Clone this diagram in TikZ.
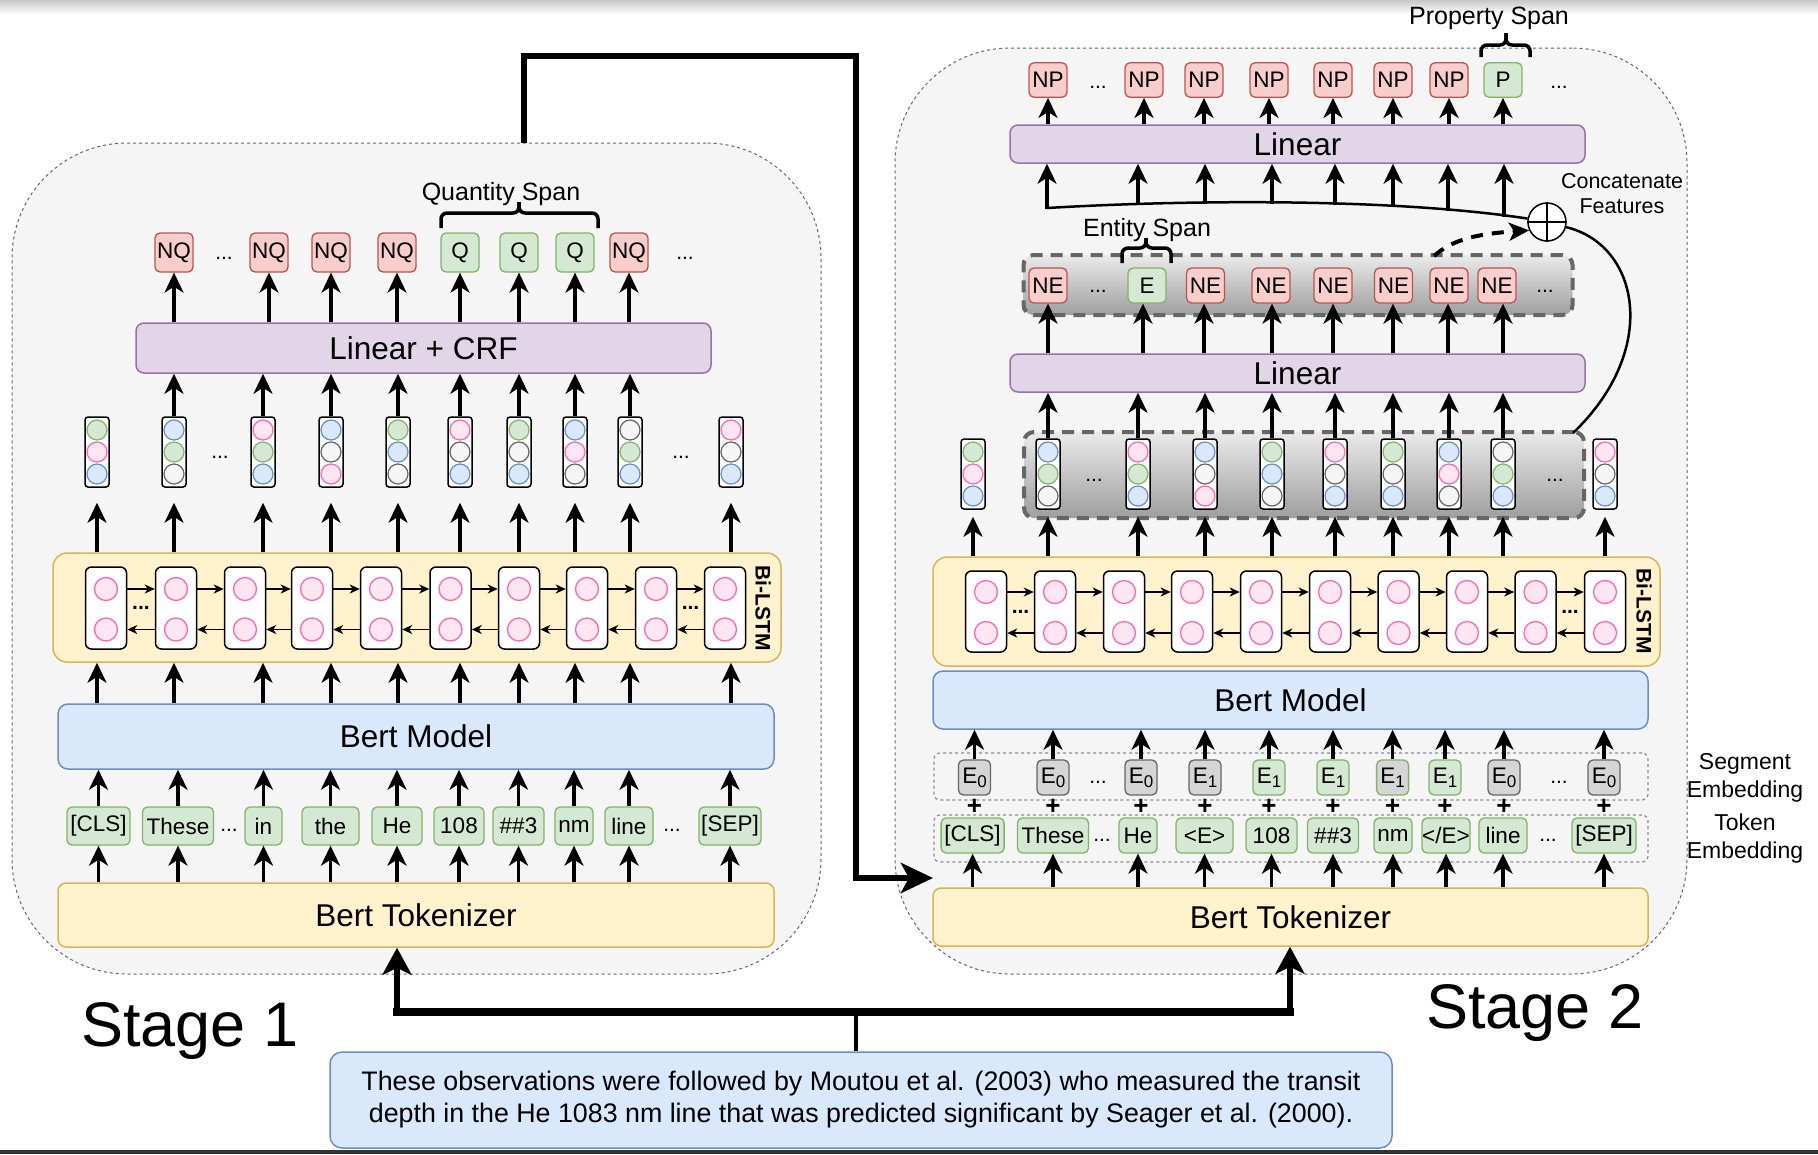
\documentclass[tikz,border=0pt]{standalone}
\usepackage{fontspec}
\setmainfont{Liberation Sans}
\usetikzlibrary{arrows.meta,calc}
\definecolor{contfill}{HTML}{F5F5F5}
\definecolor{contline}{HTML}{666666}
\definecolor{linfill}{HTML}{E1D5E7}
\definecolor{linline}{HTML}{9673A6}
\definecolor{bfill}{HTML}{DAE8FC}
\definecolor{bline}{HTML}{6C8EBF}
\definecolor{yfill}{HTML}{FFF2CC}
\definecolor{yline}{HTML}{D6B656}
\definecolor{gfill}{HTML}{D5E8D4}
\definecolor{gline}{HTML}{82B366}
\definecolor{rfill}{HTML}{F8CECC}
\definecolor{rline}{HTML}{B85450}
\definecolor{pfill}{HTML}{FFE6F0}
\definecolor{pline}{HTML}{FF66B3}
\definecolor{wfill}{HTML}{F5F5F5}
\definecolor{wline}{HTML}{666666}
\definecolor{efill}{HTML}{D5D5D5}
\definecolor{eline}{HTML}{666666}
\definecolor{mfill}{HTML}{D5D5D5}
\definecolor{mline}{HTML}{82B366}
\newcommand{\myfs}[1]{\fontsize{#1}{#1}\selectfont}
\newcommand{\esub}[1]{E\raisebox{-4pt}{\fontsize{17}{17}\selectfont #1}}
\tikzset{
  cont/.style={draw=contline, fill=contfill, line width=1pt, dash pattern=on 3pt off 3pt, rounded corners=115pt, inner sep=0pt},
  bx/.style={draw, line width=1.5pt, rounded corners=8pt, inner sep=0pt, font=\myfs{31.5}},
  linbox/.style={bx, fill=linfill, draw=linline},
  bertbox/.style={bx, fill=bfill, draw=bline},
  yelbox/.style={bx, fill=yfill, draw=yline},
  lab/.style={draw, line width=1.3pt, rounded corners=5pt, inner sep=0pt, minimum width=38pt, minimum height=35pt, font=\myfs{22.5}},
  dotsn/.style={inner sep=0pt, font=\myfs{21}},
  cellbox/.style={draw=black, fill=white, line width=1.5pt, rounded corners=6pt, minimum width=41pt, minimum height=82pt, inner sep=0pt},
  vecbox/.style={draw=black, fill=white, line width=1.5pt, rounded corners=3pt, minimum width=24pt, minimum height=70pt, inner sep=0pt},
  crc/.style={circle, line width=1.2pt, minimum size=20pt, inner sep=0pt},
  lc/.style={circle, line width=1.3pt, minimum size=23pt, inner sep=0pt, fill=pfill, draw=pline},
  arr/.style={line width=3.2pt, -{Stealth[length=20pt,width=19pt,inset=6pt]}},
  sarr/.style={line width=1.8pt, -{Stealth[length=10pt,width=9pt,inset=3pt]}},
  bigarr/.style={line width=6pt, line join=miter, -{Stealth[length=32pt,width=30pt,inset=8pt]}},
  bigarrb/.style={line width=6pt, -{Stealth[length=27pt,width=29pt,inset=7pt]}},
  grp/.style={draw=black!45, line width=1.2pt, dash pattern=on 3pt off 3pt, rounded corners=6pt, inner sep=0pt},
  shbox/.style={draw=contline, line width=4pt, dash pattern=on 12pt off 8pt, rounded corners=10pt, top color=black!8, bottom color=black!38, inner sep=0pt},
  brc/.style={line width=3.5pt, rounded corners=6pt},
  plusn/.style={inner sep=0pt, font=\bfseries\myfs{26}},
  lstmlbl/.style={rotate=-90, inner sep=0pt, font=\bfseries\myfs{21}},
  spanlbl/.style={inner sep=0pt, font=\myfs{25}},
}
\begin{document}
\begin{tikzpicture}[x=1pt,y=-1pt]
\useasboundingbox (0,0) rectangle (1818,1154);
\fill[white] (0,0) rectangle (1818,1154);
\shade[top color=black!22, bottom color=white] (0,0) rectangle (1818,14);
\fill[black!80] (0,1150) rectangle (1818,1154);

\node[cont, minimum width=809pt, minimum height=831pt] (st1) at (416.5,558.5) {};
\node[cont, minimum width=792pt, minimum height=926pt] (st2) at (1291,511) {};

%%%%%%%% Stage 1
\node[yelbox, minimum width=716pt, minimum height=64pt] (s1tokz) at (416,915) {Bert Tokenizer};
\node[bertbox, minimum width=716pt, minimum height=65pt, rounded corners=10pt] (s1bert) at (416,736.5) {Bert Model};
\node[yelbox, minimum width=728pt, minimum height=109pt, rounded corners=14pt] (s1lstm) at (417,607.5) {};
\node[lstmlbl] (s1lbl) at (763,608) {Bi-LSTM};
\node[linbox, minimum width=575pt, minimum height=50pt] (s1lin) at (423.5,348) {Linear + CRF};

\foreach \x/\w/\tx [count=\i] in {98.5/63/{[CLS]},178/71/These,263.5/37/in,330.5/57/the,397/50/He,459/50/108,518.5/51/{\#\#3},574/38/nm,629/48/line,730/62/{[SEP]}}{
  \node[lab, fill=gfill, draw=gline, minimum width=\w pt, minimum height=38pt] (s1t\i) at (\x,826) {\tx};
  \draw[arr] (s1t\i.south |- s1tokz.north) -- (s1t\i.south);
  \draw[arr] (s1t\i.north) -- (s1t\i.north |- s1bert.south);
}
\node[dotsn] (s1tdA) at (229,830) {...};
\node[dotsn] (s1tdB) at (672,830) {...};

\foreach \x [count=\i] in {106,176,245,312,381,450.5,519,587,656,725}{
  \node[cellbox] (s1cell\i) at (\x,608) {};
  \node[lc] (s1cu\i) at (\x,589) {};
  \node[lc] (s1cd\i) at (\x,629.5) {};
}
\foreach \i in {1,...,9}{
  \pgfmathtruncatemacro{\j}{\i+1}
  \draw[sarr] (s1cell\i.east |- s1cu\i) -- (s1cell\j.west |- s1cu\i);
  \draw[sarr] (s1cell\j.west |- s1cd\i) -- (s1cell\i.east |- s1cd\i);
}
\node[dotsn, font=\bfseries\myfs{21}] (s1ldA) at (141,608) {...};
\node[dotsn, font=\bfseries\myfs{21}] (s1ldB) at (690.5,608) {...};

\foreach \x/\ca/\cb/\cc [count=\i] in {97/g/p/b,174/b/g/w,263/p/g/b,331/b/w/p,398/g/b/w,460/p/w/b,519/g/w/b,575/b/p/w,630/w/g/b,731/p/w/b}{
  \coordinate (s1col\i) at (\x,0);
  \draw[arr] (s1col\i |- s1bert.north) -- (s1col\i |- s1lstm.south);
  \node[vecbox] (s1v\i) at (\x,452) {};
  \node[crc, fill=\ca fill, draw=\ca line] (s1va\i) at (\x,430) {};
  \node[crc, fill=\cb fill, draw=\cb line] (s1vb\i) at (\x,452) {};
  \node[crc, fill=\cc fill, draw=\cc line] (s1vc\i) at (\x,474) {};
  \draw[arr] (s1col\i |- s1lstm.north) -- ($(s1v\i.south)+(0,15)$);
}
\foreach \i in {2,...,9}{
  \draw[arr] (s1v\i.north) -- (s1v\i.north |- s1lin.south);
}
\node[dotsn] (s1vdA) at (220,457) {...};
\node[dotsn] (s1vdB) at (681,457) {...};

\foreach \x/\tx/\sc [count=\i] in {174/NQ/r,269/NQ/r,331/NQ/r,397/NQ/r,460/Q/g,519/Q/g,575/Q/g,629/NQ/r}{
  \node[lab, minimum height=39pt, fill=\sc fill, draw=\sc line] (s1o\i) at (\x,252.5) {\tx};
  \draw[arr] (s1o\i.south |- s1lin.north) -- (s1o\i.south);
}
\node[dotsn] (s1odA) at (224,258) {...};
\node[dotsn] (s1odB) at (685,258) {...};

\node[spanlbl] (s1qs) at (501,194) {Quantity Span};
\draw[brc] (441,228) -- (441,213) -- (519,213) -- (519,202);
\draw[brc] (598,228) -- (598,213) -- (519,213) -- (519,202);

%%%%%%%% Stage 2
\node[yelbox, minimum width=715pt, minimum height=58pt] (s2tokz) at (1290.5,917) {Bert Tokenizer};
\node[bertbox, minimum width=715pt, minimum height=58pt, rounded corners=10pt] (s2bert) at (1290.5,700) {Bert Model};
\node[yelbox, minimum width=727pt, minimum height=109pt, rounded corners=14pt] (s2lstm) at (1296.5,611.5) {};
\node[lstmlbl] (s2lbl) at (1644,611) {Bi-LSTM};
\node[grp, minimum width=714pt, minimum height=47pt] (s2seg) at (1291,776.5) {};
\node[grp, minimum width=714pt, minimum height=47pt] (s2tg) at (1291,838.5) {};

\foreach \x/\w/\tx [count=\i] in {972.6/63/{[CLS]},1053/71/These,1138/38/He,1204.5/57/{<E>},1271.5/51/108,1333/51/{\#\#3},1393/38/nm,1446/48/{</E>},1503/48/line,1604/64/{[SEP]}}{
  \node[lab, fill=gfill, draw=gline, minimum width=\w pt] (s2t\i) at (\x,835.5) {\tx};
  \draw[arr] (s2t\i.south |- s2tokz.north) -- (s2t\i.south);
}
\node[dotsn] (s2tdA) at (1102,840) {...};
\node[dotsn] (s2tdB) at (1548,840) {...};

\foreach \x/\nn/\sc [count=\i] in {974.5/0/e,1053/0/e,1141/0/e,1205/1/e,1269/1/g,1333/1/g,1392.6/1/m,1445/1/g,1504/0/e,1604/0/e}{
  \node[lab, fill=\sc fill, draw=\sc line, minimum width=32pt] (s2e\i) at (\x,777.5) {\esub{\nn}};
  \draw[arr] (s2e\i.north) -- (s2e\i.north |- s2bert.south);
  \node[plusn] (s2p\i) at (\x,807) {+};
}
\node[dotsn] (s2edA) at (1098,782) {...};
\node[dotsn] (s2edB) at (1559,782) {...};

\foreach \x [count=\i] in {986,1055,1124,1192,1261,1330,1398.5,1467,1535.5,1605}{
  \node[cellbox, minimum height=81pt] (s2cell\i) at (\x,611.5) {};
  \node[lc] (s2cu\i) at (\x,592) {};
  \node[lc] (s2cd\i) at (\x,633) {};
}
\foreach \i in {1,...,9}{
  \pgfmathtruncatemacro{\j}{\i+1}
  \draw[sarr] (s2cell\i.east |- s2cu\i) -- (s2cell\j.west |- s2cu\i);
  \draw[sarr] (s2cell\j.west |- s2cd\i) -- (s2cell\i.east |- s2cd\i);
}
\node[dotsn, font=\bfseries\myfs{21}] (s2ldA) at (1020.5,612) {...};
\node[dotsn, font=\bfseries\myfs{21}] (s2ldB) at (1570,612) {...};

\node[shbox, minimum width=560pt, minimum height=86pt] (s2gb) at (1304,475) {};
\node[linbox, minimum width=575pt, minimum height=38pt] (s2linA) at (1297.5,373) {Linear};
\foreach \x/\ca/\cb/\cc [count=\i] in {973/g/p/b,1048/b/g/w,1138/p/g/b,1205/b/w/p,1272/g/b/w,1335/p/w/b,1393/g/w/b,1449/b/p/w,1503/w/g/b,1605/p/w/b}{
  \node[vecbox] (s2v\i) at (\x,474) {};
  \node[crc, fill=\ca fill, draw=\ca line] (s2va\i) at (\x,452) {};
  \node[crc, fill=\cb fill, draw=\cb line] (s2vb\i) at (\x,474) {};
  \node[crc, fill=\cc fill, draw=\cc line] (s2vc\i) at (\x,496) {};
  \draw[arr] (s2v\i.south |- s2lstm.north) -- ($(s2v\i.south)+(0,7)$);
}
\foreach \i in {2,...,9}{
  \draw[arr] (s2v\i.north) -- (s2v\i.north |- s2linA.south);
}
\node[dotsn] (s2vdA) at (1094,480) {...};
\node[dotsn] (s2vdB) at (1555,480) {...};

\node[shbox, minimum width=549pt, minimum height=60pt] (s2ne) at (1298,285) {};
\foreach \x/\tx/\sc [count=\i] in {1048/NE/r,1147/E/g,1205.5/NE/r,1271/NE/r,1333/NE/r,1393.5/NE/r,1449/NE/r,1497/NE/r}{
  \node[lab, fill=\sc fill, draw=\sc line] (s2n\i) at (\x,285.5) {\tx};
}
\foreach \x [count=\i] in {1048,1143,1204,1272,1333,1393,1448,1503}{
  \coordinate (s2k\i) at (\x,0);
  \draw[arr] (s2k\i |- s2linA.north) -- (s2k\i |- s2n\i.south);
}
\node[dotsn] (s2ndA) at (1098,291) {...};
\node[dotsn] (s2ndB) at (1545,291) {...};
\node[spanlbl] (s2es) at (1147,230) {Entity Span};
\draw[brc] (1122,263) -- (1122,248) -- (1146,248) -- (1146,238);
\draw[brc] (1171,263) -- (1171,248) -- (1146,248) -- (1146,238);

\node[linbox, minimum width=575pt, minimum height=38pt] (s2linB) at (1297.5,144) {Linear};
\foreach \x/\tx/\sc [count=\i] in {1048/NP/r,1144/NP/r,1204/NP/r,1269/NP/r,1333/NP/r,1393/NP/r,1449/NP/r,1503/P/g}{
  \node[lab, fill=\sc fill, draw=\sc line, minimum height=34.5pt] (s2o\i) at (\x,80) {\tx};
  \draw[arr] (s2o\i.south |- s2linB.north) -- (s2o\i.south);
}
\node[dotsn] (s2odA) at (1098,87) {...};
\node[dotsn] (s2odB) at (1559,87) {...};
\node[spanlbl] (s2ps) at (1489,18) {Property Span};
\draw[brc] (1481,57) -- (1481,45) -- (1506,45) -- (1506,33);
\draw[brc] (1530,57) -- (1530,45) -- (1506,45) -- (1506,33);

% concatenation
\node[circle, draw, fill=white, line width=1.5pt, minimum size=38pt, inner sep=0pt] (s2cat) at (1547,222) {};
\coordinate (s2cl) at (1047,208);
\coordinate (s2ge) at (1573,433);
\draw[line width=2.5pt] (s2cat.170) .. controls (1400,199) and (1200,199) .. (s2cl);
\draw[line width=2.5pt] (s2cat.-15) .. controls (1640,245) and (1660,350) .. (s2ge);
\draw[line width=1.5pt] (s2cat.north) -- (s2cat.south);
\draw[line width=1.5pt] (s2cat.west) -- (s2cat.east);
\foreach \x/\y [count=\i] in {1047/209,1138/205,1205/203.5,1272/203.5,1335/204.5,1393/207,1448/210.5,1504/216.5}{
  \coordinate (s2q\i) at (\x,\y);
  \draw[arr] (s2q\i) -- (s2q\i |- s2linB.south);
}
\coordinate (s2ds) at (1434,256);
\draw[line width=4pt, dash pattern=on 12pt off 9pt, -{Stealth[length=20pt,width=18pt,inset=5pt]}] (s2ds) .. controls (1452,240) and (1475,234) .. (s2cat.205);
\node[align=center, inner sep=0pt, font=\fontsize{21.5}{25.5}\selectfont] (s2cf) at (1622,193.5) {Concatenate\\Features};

\node[align=center, inner sep=0pt, font=\fontsize{23}{28}\selectfont] (seglbl) at (1745,778) {Segment\\Embedding};
\node[align=center, inner sep=0pt, font=\fontsize{23}{28}\selectfont] (toklbl) at (1745,838.5) {Token\\Embedding};

%%%%%%%% connectors between stages
\coordinate (k1) at (524,56);
\coordinate (k2) at (856,56);
\coordinate (k3) at (856,878);
\coordinate (k4) at (933,878);
\draw[bigarr] (k1 |- st1.north) -- (k1) -- (k2) -- (k3) -- (k4);

\node[bertbox, rounded corners=12pt, minimum width=1062pt, minimum height=96pt, align=center, font=\fontsize{26.8}{32}\selectfont] (txt) at (861,1100) {These observations were followed by Moutou et al. (2003) who measured the transit\\depth in the He 1083 nm line that was predicted significant by Seager et al. (2000).};
\coordinate (bl) at (397,1012);
\coordinate (br) at (1290,1012);
\coordinate (bm) at (856,1012);
\draw[line width=4pt] (txt.north -| bm) -- (bm);
\draw[line width=8pt, line cap=rect] (bl) -- (br);
\draw[bigarrb] (bl) -- (bl |- s1tokz.south);
\draw[bigarrb] (br) -- (br |- s2tokz.south);

\node[anchor=base west, inner sep=0pt, font=\myfs{63}] (stg1) at (81,1046) {Stage 1};
\node[anchor=base west, inner sep=0pt, font=\myfs{63}] (stg2) at (1426,1028) {Stage 2};
\end{tikzpicture}
\end{document}
